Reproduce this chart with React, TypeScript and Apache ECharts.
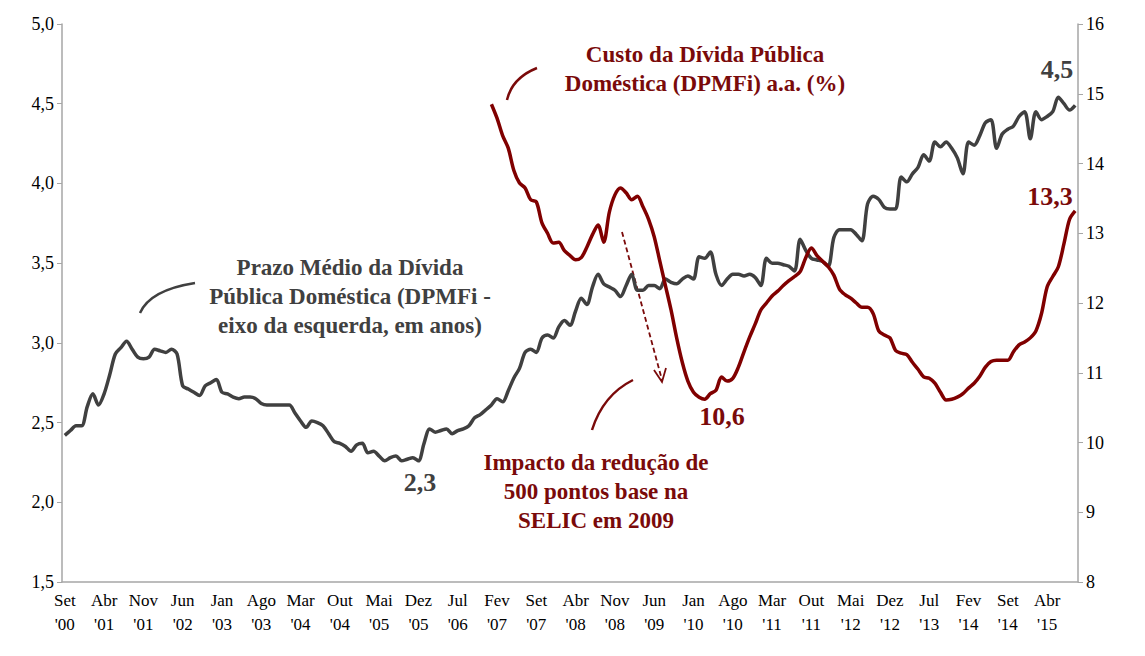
import React, { useEffect, useRef } from "react";
import * as echarts from "echarts";

const MONTHS = ["Jan", "Fev", "Mar", "Abr", "Mai", "Jun", "Jul", "Ago", "Set", "Out", "Nov", "Dez"];
// Set 2000 .. Set 2015
const categories: string[] = [];
for (let i = 0; i < 181; i++) {
  const m = (8 + i) % 12;
  const y = 2000 + Math.floor((8 + i) / 12);
  categories.push(MONTHS[m] + "\n'" + String(y % 100).padStart(2, "0"));
}

const prazoMedio = [
  2.42, 2.45, 2.48, 2.48, 2.60, 2.68, 2.61, 2.68, 2.80, 2.93, 2.97, 3.01,
  2.96, 2.91, 2.90, 2.91, 2.96, 2.95, 2.94, 2.96, 2.93, 2.73, 2.71, 2.69,
  2.67, 2.73, 2.75, 2.77, 2.69, 2.68, 2.66, 2.65, 2.66, 2.66, 2.65, 2.62,
  2.61, 2.61, 2.61, 2.61, 2.61, 2.56, 2.51, 2.47, 2.51, 2.50, 2.48, 2.43,
  2.38, 2.37, 2.35, 2.32, 2.36, 2.37, 2.31, 2.32, 2.29, 2.26, 2.28, 2.29,
  2.26, 2.27, 2.28, 2.26, 2.37, 2.46, 2.44, 2.45, 2.46, 2.43, 2.45, 2.46,
  2.48, 2.53, 2.55, 2.58, 2.61, 2.65, 2.63, 2.70, 2.78, 2.84, 2.94, 2.96,
  2.94, 3.03, 3.05, 3.03, 3.10, 3.14, 3.11, 3.20, 3.28, 3.24, 3.35, 3.43,
  3.37, 3.35, 3.33, 3.29, 3.36, 3.43, 3.33, 3.33, 3.36, 3.36, 3.34, 3.40,
  3.38, 3.37, 3.40, 3.42, 3.40, 3.54, 3.53, 3.57, 3.43, 3.36, 3.40, 3.43,
  3.43, 3.42, 3.43, 3.41, 3.36, 3.53, 3.50, 3.50, 3.49, 3.48, 3.45, 3.65,
  3.58, 3.53, 3.52, 3.51, 3.48, 3.66, 3.71, 3.71, 3.71, 3.68, 3.64, 3.87,
  3.92, 3.90, 3.85, 3.84, 3.84, 4.04, 4.01, 4.06, 4.10, 4.18, 4.14, 4.26,
  4.23, 4.26, 4.22, 4.16, 4.06, 4.26, 4.24, 4.30, 4.38, 4.40, 4.22, 4.31,
  4.34, 4.36, 4.42, 4.45, 4.28, 4.45, 4.40, 4.42, 4.45, 4.54, 4.50, 4.46, 4.49,
];

// starts at index 76 (Jan '07)
const custoStart = 76;
const custoValues = [
  14.85, 14.65, 14.4, 14.22, 13.9, 13.72, 13.65, 13.48, 13.45, 13.15, 13.0, 12.86,
  12.87, 12.75, 12.68, 12.62, 12.65, 12.8, 12.98, 13.12, 12.87, 13.3, 13.55, 13.65,
  13.58, 13.48, 13.53, 13.38, 13.2, 12.95, 12.6, 12.25, 11.9, 11.5, 11.15, 10.88,
  10.72, 10.65, 10.62, 10.7, 10.75, 10.94, 10.88, 10.92, 11.08, 11.3, 11.51, 11.7,
  11.9, 12.0, 12.1, 12.17, 12.25, 12.32, 12.38, 12.45, 12.65, 12.79, 12.68, 12.6,
  12.52, 12.4, 12.2, 12.12, 12.07, 12.0, 11.94, 11.94, 11.85, 11.6, 11.54, 11.5,
  11.32, 11.28, 11.26, 11.15, 11.05, 10.94, 10.92, 10.85, 10.72, 10.61, 10.62, 10.65,
  10.7, 10.78, 10.85, 10.95, 11.08, 11.16, 11.18, 11.18, 11.18, 11.3, 11.4, 11.44,
  11.5, 11.6, 11.85, 12.23, 12.38, 12.52, 12.85, 13.2, 13.32,
];
const custo = categories.map((_, i) => (i < custoStart ? null : custoValues[i - custoStart]));

const GRAY = "#404040";
const RED = "#7a0a0a";
const FONT = "Liberation Serif";

export default function App() {
  const ref = useRef<HTMLDivElement>(null);
  useEffect(() => {
    const chart = echarts.init(ref.current!, undefined, { renderer: "svg" });
    const bold = (x: number, y: number, text: string, fill: string, size = 23) => ({
      type: "text",
      x,
      y,
      style: { text, fill, font: `bold ${size}px "${FONT}"`, align: "center", verticalAlign: "top", lineHeight: 29 },
    });
    chart.setOption({
      animation: false,
      grid: { left: 62, right: 67, top: 24, bottom: 74 },
      xAxis: {
        type: "category",
        data: categories,
        boundaryGap: true,
        axisLine: { lineStyle: { color: "#a6a6a6", width: 1.5 } },
        axisTick: { show: false },
        axisLabel: {
          interval: 6,
          color: "#000",
          fontFamily: FONT,
          fontSize: 17,
          lineHeight: 24,
          margin: 6,
        },
      },
      yAxis: [
        {
          type: "value",
          min: 1.5,
          max: 5,
          interval: 0.5,
          splitLine: { show: false },
          axisLine: { show: true, lineStyle: { color: "#a6a6a6", width: 1.5 } },
          axisTick: { show: true, length: 5, lineStyle: { color: "#a6a6a6" } },
          axisLabel: {
            color: "#000",
            fontFamily: FONT,
            fontSize: 18,
            formatter: (v: number) => v.toFixed(1).replace(".", ","),
          },
        },
        {
          type: "value",
          min: 8,
          max: 16,
          interval: 1,
          splitLine: { show: false },
          axisLine: { show: true, lineStyle: { color: "#a6a6a6", width: 1.5 } },
          axisTick: { show: true, length: 5, lineStyle: { color: "#a6a6a6" } },
          axisLabel: { color: "#000", fontFamily: FONT, fontSize: 18 },
        },
      ],
      series: [
        {
          type: "line",
          data: prazoMedio,
          yAxisIndex: 0,
          smooth: 0.3,
          showSymbol: false,
          lineStyle: { color: GRAY, width: 3.5 },
        },
        {
          type: "line",
          data: custo,
          yAxisIndex: 1,
          smooth: 0.3,
          showSymbol: false,
          lineStyle: { color: "#800000", width: 3.5 },
        },
      ],
      graphic: [
        bold(350, 253, "Prazo Médio da Dívida\nPública Doméstica (DPMFi -\neixo da esquerda, em anos)", GRAY),
        bold(705, 40, "Custo da Dívida Pública\nDoméstica (DPMFi) a.a. (%)", RED),
        bold(596, 448, "Impacto da redução de\n500 pontos base na\nSELIC em 2009", RED),
        bold(420, 468, "2,3", GRAY, 26),
        bold(1057, 55, "4,5", GRAY, 26),
        bold(722, 402, "10,6", RED, 26),
        bold(1050, 182, "13,3", RED, 26),
        {
          type: "bezierCurve",
          shape: { x1: 140, y1: 313, x2: 195, y2: 283, cpx1: 150, cpy1: 290 },
          style: { stroke: GRAY, lineWidth: 2.5, fill: "none" },
        },
        {
          type: "bezierCurve",
          shape: { x1: 507, y1: 100, x2: 537, y2: 68, cpx1: 512, cpy1: 78 },
          style: { stroke: RED, lineWidth: 2.5, fill: "none" },
        },
        {
          type: "bezierCurve",
          shape: { x1: 592, y1: 430, x2: 633, y2: 380, cpx1: 603, cpy1: 395 },
          style: { stroke: RED, lineWidth: 2.5, fill: "none" },
        },
        {
          type: "line",
          shape: { x1: 622, y1: 232, x2: 662, y2: 380 },
          style: { stroke: RED, lineWidth: 1.8, lineDash: [5, 3] },
        },
        {
          type: "polyline",
          shape: { points: [[654, 370], [662, 382], [666, 368]] },
          style: { stroke: RED, lineWidth: 1.8, fill: "none" },
        },
      ],
    });
    return () => chart.dispose();
  }, []);
  return (
    <div
      ref={ref}
      style={{ position: "absolute", left: 0, top: 0, width: 1145, height: 656, background: "#fff" }}
    />
  );
}
